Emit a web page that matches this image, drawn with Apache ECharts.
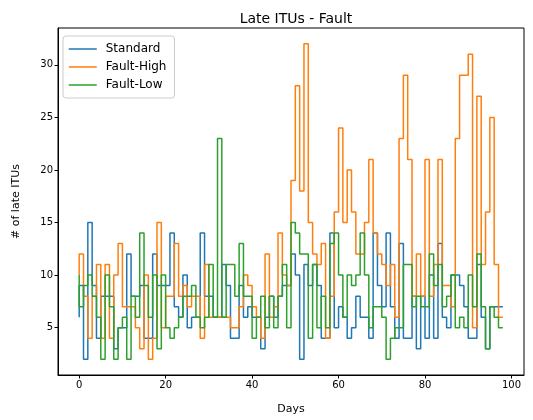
<!DOCTYPE html>
<html>
<head>
<meta charset="utf-8">
<script src="https://cdn.jsdelivr.net/npm/echarts@6/dist/echarts.min.js"></script>
<style>
  html, body { margin: 0; padding: 0; background: #fff; }
  #chart { width: 533px; height: 420px; }
</style>
</head>
<body>
<div id="chart"></div>
<script>
// late ITUs per day; first value is the starting point at day 0 (step "pre")
const standard = [6,
  9, 2, 15, 9, 4, 8, 8, 8, 3, 5,
  5, 12, 8, 8, 9, 4, 4, 12, 9, 9,
  9, 14, 7, 6, 10, 5, 6, 6, 14, 8,
  8, 6, 6, 11, 9, 4, 4, 9, 6, 7,
  6, 6, 3, 6, 8, 6, 8, 9, 9, 12,
  10, 2, 11, 9, 11, 9, 4, 4, 14, 5,
  7, 6, 4, 5, 8, 6, 6, 4, 14, 9,
  7, 14, 7, 4, 13, 4, 4, 8, 3, 8,
  4, 10, 4, 13, 6, 5, 10, 10, 9, 7,
  4, 4, 11, 6, 3, 7, 7, 7]

const faultHigh = [10,
  12, 8, 4, 8, 11, 4, 11, 4, 10, 13,
  7, 7, 7, 5, 3, 10, 2, 4, 15, 5,
  8, 8, 13, 8, 9, 7, 8, 8, 4, 11,
  6, 6, 6, 6, 6, 5, 5, 7, 10, 9,
  7, 6, 4, 12, 6, 7, 14, 10, 9, 19,
  28, 18, 32, 15, 12, 11, 13, 4, 8, 16,
  24, 15, 20, 16, 12, 12, 15, 21, 14, 12,
  11, 9, 11, 6, 23, 29, 21, 8, 12, 8,
  21, 8, 11, 21, 9, 9, 7, 23, 29, 29,
  31, 5, 27, 11, 16, 25, 11, 6]

const faultLow = [10,
  7, 9, 10, 8, 6, 2, 10, 7, 2, 5,
  6, 2, 8, 6, 14, 9, 6, 10, 3, 10,
  5, 4, 5, 6, 8, 8, 9, 6, 5, 6,
  11, 6, 23, 6, 11, 11, 8, 13, 8, 8,
  4, 6, 8, 5, 8, 5, 8, 11, 5, 15,
  14, 12, 12, 4, 11, 5, 8, 5, 13, 14,
  10, 6, 10, 9, 10, 14, 10, 5, 7, 7,
  6, 2, 4, 5, 5, 11, 11, 7, 8, 7,
  7, 12, 9, 11, 7, 8, 10, 5, 6, 5,
  10, 7, 12, 7, 3, 7, 6, 5]

const seriesNames = ['Standard', 'Fault-High', 'Fault-Low']
const seriesColors = ['#1f77b4', '#ff7f0e', '#2ca02c']
const xTicks = [0, 20, 40, 60, 80, 100]
const yTicks = [5, 10, 15, 20, 25, 30]

const font = 'DejaVu Sans'
const chart = echarts.init(document.getElementById('chart'), null, { renderer: 'canvas' })

function toPoints(values) {
  return values.map((v, i) => [i, v])
}

const allSeries = [standard, faultHigh, faultLow].map((vals, i) => ({
  name: seriesNames[i],
  type: 'line',
  step: 'start',
  symbol: 'none',
  data: toPoints(vals),
  lineStyle: { width: 1.5, color: seriesColors[i] },
  itemStyle: { color: seriesColors[i] },
  emphasis: { disabled: true },
  animation: false
}))

chart.setOption({
  animation: false,
  title: {
    text: 'Late ITUs - Fault',
    left: 291,
    top: 7,
    textAlign: 'center',
    textStyle: { fontFamily: font, fontSize: 14, fontWeight: 'normal', color: '#000' }
  },
  grid: {
    left: 58, right: 9, top: 28, bottom: 44,
    show: true, borderColor: '#000', borderWidth: 1, backgroundColor: 'transparent'
  },
  legend: {
    orient: 'vertical',
    left: 63, top: 36,
    padding: [7, 8, 7, 5],
    itemGap: 6,
    itemWidth: 28,
    itemHeight: 14,
    borderColor: '#cccccc',
    borderWidth: 1,
    borderRadius: 3,
    itemStyle: { opacity: 0 },
    lineStyle: { width: 1.5 },
    textStyle: { fontFamily: font, fontSize: 12, color: '#000', padding: [0, 0, 0, 4] },
    data: seriesNames
  },
  xAxis: {
    type: 'value',
    min: -4.9, max: 102.9,
    name: 'Days',
    nameLocation: 'middle',
    nameGap: 29,
    nameTextStyle: { fontFamily: font, fontSize: 11, color: '#000' },
    axisLine: { onZero: false, lineStyle: { color: '#000' } },
    axisTick: { customValues: xTicks, length: 3.5, lineStyle: { color: '#000' } },
    axisLabel: { customValues: xTicks, fontFamily: font, fontSize: 10, color: '#000', margin: 5 },
    minorTick: { show: false },
    splitLine: { show: false }
  },
  yAxis: {
    type: 'value',
    min: 0.5, max: 33.5,
    name: '# of late ITUs',
    nameLocation: 'middle',
    nameGap: 36,
    nameTextStyle: { fontFamily: font, fontSize: 11, color: '#000' },
    axisLine: { show: true, onZero: false, lineStyle: { color: '#000' } },
    axisTick: { show: true, customValues: yTicks, length: 3.5, lineStyle: { color: '#000' } },
    axisLabel: { customValues: yTicks, fontFamily: font, fontSize: 10, color: '#000', margin: 5 },
    minorTick: { show: false },
    splitLine: { show: false }
  },
  series: allSeries
})
</script>
</body>
</html>
